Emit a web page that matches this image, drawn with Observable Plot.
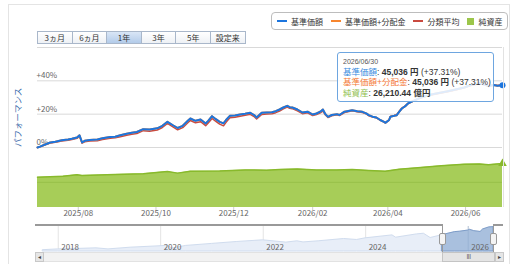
<!DOCTYPE html>
<html><head><meta charset="utf-8">
<script src="https://cdn.jsdelivr.net/npm/d3@7"></script>
<script src="https://cdn.jsdelivr.net/npm/@observablehq/plot@0.6"></script>
<style>
body{margin:0;background:#fff;}
#wrap{position:relative;width:518px;height:264px;overflow:hidden;background:#fff;font-family:"Noto Sans CJK JP","Noto Sans",sans-serif;color:#333;}
#wrap svg{position:absolute;left:0;background:transparent;}
.abs{position:absolute;}
.frame{left:8px;top:4px;width:500px;height:270px;border:1px solid #e4e4e4;}
.btns{left:37px;top:31px;display:flex;}
.btn{box-sizing:border-box;width:35.6px;height:13px;margin-left:-1px;border:1px solid #a9b7ca;font-size:8px;line-height:11px;text-align:center;background:linear-gradient(#ffffff,#eef1f5);color:#333;}
.btn:first-child{margin-left:0;}
.btn.sel{background:linear-gradient(#d9e6f6,#b3cbe9);}
.legend{left:271px;top:12px;width:230px;height:16px;border:1px solid #bdbdbd;border-radius:4px;display:flex;align-items:center;padding-left:5px;font-size:8px;color:#333;white-space:nowrap;}
.li{display:flex;align-items:center;margin-right:8px;}
.sw{width:10px;height:2px;margin-right:4px;}
.sq{width:7px;height:7px;margin-right:4px;}
.ytitle{left:11px;top:89px;width:12px;height:58px;writing-mode:vertical-rl;text-orientation:sideways;transform:rotate(180deg);text-align:center;font-size:8.5px;line-height:12px;color:#3f6fae;white-space:nowrap;}
.tip{left:337px;top:52px;width:157px;height:50px;border:1px solid #6ea6e0;border-radius:3px;background:rgba(255,255,255,0.86);font-family:"Liberation Sans","Noto Sans CJK JP",sans-serif;font-size:8.5px;padding:4px 0 0 5px;box-sizing:border-box;white-space:nowrap;}
.tip > div{height:10px;line-height:10px;}
.tip b{font-weight:700;color:#333;}
.tip .d{font-size:7px;color:#555;}
</style></head>
<body><div id="wrap"></div>
<script>
// ---------- data ----------
const perfDates = ["2025-06-30","2025-07-02","2025-07-06","2025-07-10","2025-07-14","2025-07-19","2025-07-24","2025-07-27","2025-07-31","2025-08-02","2025-08-04","2025-08-06","2025-08-10","2025-08-16","2025-08-20","2025-08-26","2025-08-30","2025-09-03","2025-09-08","2025-09-12","2025-09-16","2025-09-21","2025-09-26","2025-10-02","2025-10-06","2025-10-10","2025-10-14","2025-10-18","2025-10-22","2025-10-26","2025-10-28","2025-11-01","2025-11-05","2025-11-09","2025-11-11","2025-11-14","2025-11-17","2025-11-20","2025-11-23","2025-11-25","2025-11-28","2025-12-02","2025-12-06","2025-12-10","2025-12-14","2025-12-17","2025-12-19","2025-12-23","2025-12-27","2025-12-31","2026-01-03","2026-01-06","2026-01-09","2026-01-12","2026-01-14","2026-01-16","2026-01-20","2026-01-24","2026-01-28","2026-02-01","2026-02-04","2026-02-07","2026-02-09","2026-02-11","2026-02-13","2026-02-16","2026-02-20","2026-02-22","2026-02-26","2026-03-04","2026-03-08","2026-03-12","2026-03-15","2026-03-17","2026-03-20","2026-03-23","2026-03-26","2026-03-29","2026-03-30","2026-04-02","2026-04-03","2026-04-06","2026-04-08","2026-04-10","2026-04-12","2026-04-15","2026-04-17","2026-04-21","2026-04-27","2026-05-05","2026-05-13","2026-05-18","2026-05-25","2026-05-31","2026-06-05","2026-06-12","2026-06-16","2026-06-19","2026-06-23","2026-06-26","2026-06-30"];
// 基準価額 performance (%)
const basePct = [0,0.5,1.8,3.0,3.5,4.3,4.8,5.2,6.0,7.3,3.0,4.0,4.5,4.8,5.5,6.3,6.5,7.3,8.3,8.8,9.3,11.0,10.8,11.5,13.0,15.4,13.5,11.7,13.0,16.0,17.4,16.0,16.8,14.4,16.0,18.8,17.0,15.4,14.5,16.5,19.0,19.2,19.8,20.2,20.8,19.5,18.0,20.8,21.0,21.2,21.8,22.8,24.0,25.0,24.2,24.0,22.8,21.0,21.5,19.8,20.4,21.5,22.8,20.0,18.4,19.5,20.0,19.5,21.5,22.4,21.8,21.4,20.5,19.4,18.5,18.0,16.5,15.4,14.8,16.5,18.5,19.0,19.4,21.5,23.4,25.0,26.5,28.0,30.0,31.8,33.0,33.8,35.0,36.0,37.5,38.5,37.8,36.8,37.5,37.0,37.31];
// 基準価額+分配金 performance (%) — no distributions, identical to 基準価額
const baseDistPct = [0,0.5,1.8,3.0,3.5,4.3,4.8,5.2,6.0,7.3,3.0,4.0,4.5,4.8,5.5,6.3,6.5,7.3,8.3,8.8,9.3,11.0,10.8,11.5,13.0,15.4,13.5,11.7,13.0,16.0,17.4,16.0,16.8,14.4,16.0,18.8,17.0,15.4,14.5,16.5,19.0,19.2,19.8,20.2,20.8,19.5,18.0,20.8,21.0,21.2,21.8,22.8,24.0,25.0,24.2,24.0,22.8,21.0,21.5,19.8,20.4,21.5,22.8,20.0,18.4,19.5,20.0,19.5,21.5,22.4,21.8,21.4,20.5,19.4,18.5,18.0,16.5,15.4,14.8,16.5,18.5,19.0,19.4,21.5,23.4,25.0,26.5,28.0,30.0,31.8,33.0,33.8,35.0,36.0,37.5,38.5,37.8,36.8,37.5,37.0,37.31];
// 分類平均 performance (%)
const catAvgPct = [0,0.4,1.6,2.7,3.2,3.9,4.3,4.8,5.5,6.8,2.6,3.4,3.9,4.1,4.8,5.6,5.8,6.5,7.4,7.9,8.4,10.1,9.8,10.5,12.0,14.5,12.5,10.6,11.9,14.9,16.2,14.8,15.5,13.1,14.7,17.4,15.7,14.0,13.0,15.1,17.8,18.1,18.8,19.3,19.9,18.6,17.1,19.8,20.1,20.3,20.9,21.9,23.2,24.3,23.5,23.3,22.0,20.3,20.8,19.2,19.8,20.8,22.0,19.5,18.0,19.0,19.6,19.2,21.0,22.0,21.4,21.0,20.2,19.1,18.3,17.8,16.4,15.3,14.8,16.6,18.6,19.2,19.7,21.8,23.6,25.1,26.5,27.9,29.8,31.5,32.7,33.5,34.7,35.8,37.2,38.3,37.7,36.9,37.6,37.2,37.5];

// 純資産 (億円)
const netAssetDates = ["2025-06-30","2025-07-20","2025-07-31","2025-08-04","2025-08-30","2025-09-21","2025-10-10","2025-10-18","2025-10-28","2025-11-20","2025-12-10","2025-12-27","2026-01-06","2026-01-20","2026-02-04","2026-02-20","2026-03-04","2026-03-17","2026-03-30","2026-04-10","2026-04-27","2026-05-13","2026-05-31","2026-06-12","2026-06-19","2026-06-30"];
const netAssets = [18100,18700,19600,19100,19700,20200,21500,20500,21600,21700,22400,22200,22700,22900,22300,22400,22600,22100,21600,22800,23900,24900,25800,26000,25500,26210.44];

// navigator (基準価額, 円)
const navDates = ["2017-09-15","2018-01-01","2018-06-01","2018-10-01","2018-12-25","2019-06-01","2019-12-31","2020-02-20","2020-03-23","2020-07-01","2020-12-31","2021-06-30","2021-12-31","2022-06-15","2022-09-01","2022-10-15","2023-01-31","2023-07-31","2023-10-31","2023-12-31","2024-07-10","2024-08-05","2024-12-31","2025-02-19","2025-04-08","2025-06-30","2025-09-30","2025-11-01","2025-12-31","2026-01-12","2026-02-13","2026-03-30","2026-04-17","2026-05-31","2026-06-30"];
const navPrice = [10000,11200,12000,12800,11200,13800,16000,16800,12500,16500,19500,22500,25000,21500,23500,21800,23500,27000,25500,28000,32500,29000,34000,35000,28500,32800,37500,38000,39800,41000,38900,37700,41500,44600,45036];
const navYears = ["2018","2020","2022","2024","2026"];

const xTickDates = ["2025-08-01","2025-10-01","2025-12-01","2026-02-01","2026-04-01","2026-06-01"];
const yTicks = [0,20,40];
const yGrid = [0,20,40,60];
const naGrid = [15000];
const rangeButtons = ["3ヵ月","6ヵ月","1年","3年","5年","設定来"];
const selectedButton = "1年";
const legendNames = ["基準価額","基準価額+分配金","分類平均","純資産"];
const legendColors = ["#1c75de","#f7862f","#c94a3f","#9cc64a"];
const yTitle = "パフォーマンス";
const tipDate = "2026/06/30";
const tipBase = ["基準価額","45,036 円","(+37.31%)"];
const tipBaseDist = ["基準価額+分配金","45,036 円","(+37.31%)"];
const tipNetAssets = ["純資産","26,210.44 億円"];
const periodStart = "2025-06-30", periodEnd = "2026-06-30";
const navStart = "2017-07-23";
const navBase = 8000, navTop = 46000;

// ---------- build ----------
const FONT = '"Noto Sans CJK JP","Noto Sans",sans-serif';
const wrap = document.getElementById("wrap");
const perf = perfDates.map((d,i)=>({date:new Date(d), base:basePct[i], dist:baseDistPct[i], avg:catAvgPct[i]}));
const na = netAssetDates.map((d,i)=>({date:new Date(d), value:netAssets[i]}));
const nav = navDates.map((d,i)=>({date:new Date(d), price:navPrice[i]}));
const selStart = new Date(periodStart), selEnd = new Date(periodEnd);
const navSel = nav.filter(d=>d.date>=selStart);
const xDomain = [selStart, selEnd];

function place(svg, top){ svg.style.top = top+"px"; svg.style.background="transparent"; wrap.appendChild(svg); return svg; }

const p1 = Plot.plot({
  width:518, height:152, marginLeft:37, marginRight:16, marginTop:47, marginBottom:5,
  x:{type:"utc", domain:xDomain, axis:null},
  y:{domain:[0,60], axis:null},
  style:{fontFamily:FONT, fontSize:"8px", background:"transparent"},
  marks:[
    Plot.ruleY(yGrid, {stroke:"#d9d9d9"}),
    Plot.text(yTicks, {y:d=>d, frameAnchor:"left", text:d=>d===0?"0%":`+${d}%`, textAnchor:"start", dx:-1, dy:-5, fill:"#666"}),
    Plot.line(perf, {x:"date", y:"avg", stroke:legendColors[2], strokeWidth:1.5}),
    Plot.line(perf, {x:"date", y:"dist", stroke:legendColors[1], strokeWidth:2}),
    Plot.line(perf, {x:"date", y:"base", stroke:legendColors[0], strokeWidth:2}),
    Plot.dot(perf.slice(-1), {x:"date", y:"base", r:3, fill:legendColors[0]})
  ]
});
place(p1, 0);

const p2 = Plot.plot({
  width:518, height:75, marginLeft:37, marginRight:16, marginTop:3, marginBottom:15,
  x:{type:"utc", domain:xDomain},
  y:{domain:[0,34000], axis:null},
  style:{fontFamily:FONT, fontSize:"8px", background:"transparent"},
  marks:[
    Plot.areaY(na, {x:"date", y:"value", fill:"#a7cd58"}),
    Plot.ruleY(naGrid, {stroke:"#8fb840", strokeOpacity:0.6}),
    Plot.lineY(na, {x:"date", y:"value", stroke:"#88b92c", strokeWidth:1.5}),
    Plot.dot(na.slice(-1), {x:"date", y:"value", symbol:"triangle", r:3.2, fill:"#88b92c"}),
    Plot.axisX({ticks:xTickDates.map(d=>new Date(d)), tickFormat:d3.utcFormat("%Y/%m"), tickSize:3, tickPadding:0, stroke:"#cfcfcf", fill:"#666"})
  ]
});
place(p2, 147);

const p3 = Plot.plot({
  width:518, height:28, marginLeft:35, marginRight:25, marginTop:2, marginBottom:1,
  x:{type:"utc", domain:[new Date(navStart), selEnd], axis:null},
  y:{domain:[navBase, navTop], axis:null},
  style:{fontFamily:FONT, fontSize:"8px", background:"transparent"},
  marks:[
    Plot.ruleX(navYears, {x:d=>new Date(d+"-01-01"), stroke:"#e4e4e4"}),
    Plot.areaY(nav, {x:"date", y1:()=>navBase, y2:"price", fill:"#e8eef8", stroke:"#d0dcee"}),
    Plot.areaY(navSel, {x:"date", y1:()=>navBase, y2:"price", fill:"#a9c0de", stroke:"#7e9dc8"}),
    Plot.ruleX([new Date("2026-01-01")], {stroke:"#8ea8cc", strokeOpacity:0.5}),
    Plot.text(navYears, {x:d=>new Date(d+"-01-01"), text:d=>d, frameAnchor:"bottom", textAnchor:"start", dx:3, dy:-2, fill:"#666"})
  ]
});
place(p3, 224);
const nx = p3.scale("x");
const sx0 = Math.round(nx.apply(selStart)), sx1 = Math.round(nx.apply(selEnd));

// ---------- html overlays ----------
function div(cls, style, html){ const e=document.createElement("div"); e.className="abs "+(cls||""); if(style) e.setAttribute("style",style); if(html!=null) e.innerHTML=html; wrap.appendChild(e); return e; }

div("frame");
div("", "left:503px;top:47px;width:1px;height:160px;background:#e2e2e2;");

const bw = div("btns");
rangeButtons.forEach(b=>{ const e=document.createElement("div"); e.className="btn"+(b===selectedButton?" sel":""); e.textContent=b; bw.appendChild(e); });

const lg = div("legend");
legendNames.forEach((n,i)=>{
  const it=document.createElement("div"); it.className="li";
  const sw=document.createElement("div"); sw.className = i===3?"sq":"sw"; sw.style.background=legendColors[i];
  const t=document.createElement("span"); t.textContent=n;
  it.appendChild(sw); it.appendChild(t); lg.appendChild(it);
});

div("ytitle", "", yTitle);

div("tip", "",
  `<div class="d">${tipDate}</div>`+
  `<div><span style="color:#3b8ce0">${tipBase[0]}</span>: <b>${tipBase[1]}</b> ${tipBase[2]}</div>`+
  `<div><span style="color:#f47a38">${tipBaseDist[0]}</span>: <b>${tipBaseDist[1]}</b> ${tipBaseDist[2]}</div>`+
  `<div style="margin-top:1px"><span style="color:#8fc04f">${tipNetAssets[0]}</span>: <b>${tipNetAssets[1]}</b></div>`);

div("", `left:35px;top:224px;width:${sx0-35}px;height:1.5px;background:#999;`);
div("", `left:${sx1}px;top:224px;width:${503-sx1}px;height:1.5px;background:#999;`);
div("", `left:${sx0}px;top:224px;width:1px;height:28px;background:#999;`);
div("", `left:${sx1}px;top:224px;width:1px;height:28px;background:#999;`);
[sx0,sx1].forEach(x=>div("", `left:${x-3}px;top:233px;width:5px;height:10px;background:#f4f4f4;border:1px solid #999;border-radius:2px;`));
div("", "left:35px;top:252px;width:468px;height:8px;background:#f2f2f2;border-top:1px solid #e2e2e2;border-bottom:1px solid #e2e2e2;");
div("", "left:35px;top:252px;width:7px;height:8px;background:#e6e6e6;border:1px solid #c8c8c8;font-size:6px;line-height:8px;text-align:center;color:#444;", "◂");
div("", "left:495px;top:252px;width:7px;height:8px;background:#e6e6e6;border:1px solid #c8c8c8;font-size:6px;line-height:8px;text-align:center;color:#444;", "▸");
div("", `left:${sx0}px;top:252px;width:${sx1-sx0}px;height:8px;background:#e4e4e4;border:1px solid #c4c4c4;font-size:6px;line-height:8px;text-align:center;color:#555;letter-spacing:-0.5px;`, "III");
</script>
</body></html>
